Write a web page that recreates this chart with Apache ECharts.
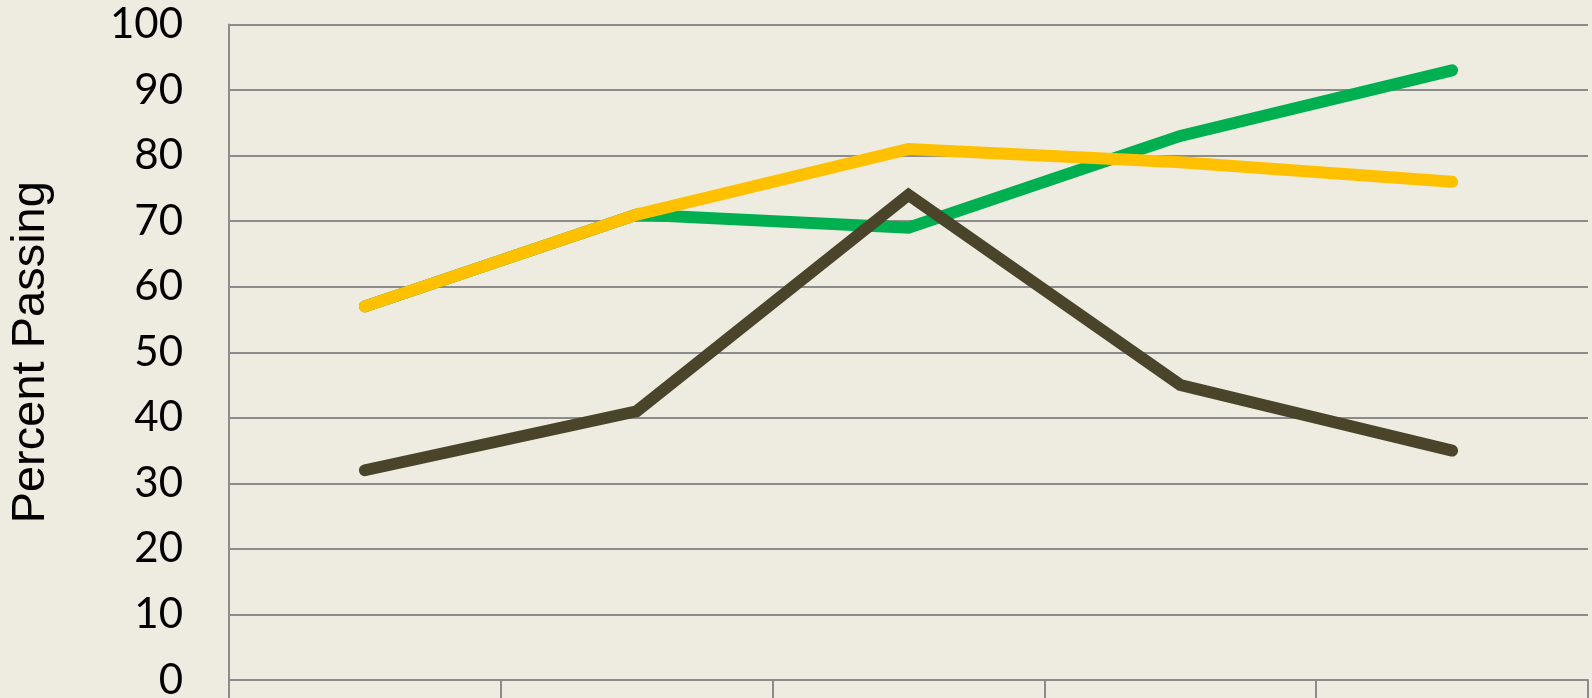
<!DOCTYPE html>
<html>
<head>
<meta charset="utf-8">
<script src="https://cdn.jsdelivr.net/npm/echarts@6/dist/echarts.min.js"></script>
<style>
  html, body { margin: 0; padding: 0; background: #EEEBE0; }
  #chart { width: 1592px; height: 698px; }
</style>
</head>
<body>
<div id="chart"></div>
<script>
// categories (labels fall below the visible area)
var categories = ['1', '2', '3', '4', '5']
var greenVals = [57, 71, 69, 83, 93]
var yellowVals = [57, 71, 81, 79, 76]
var darkVals = [32, 41, 74, 45, 35]

var chart = echarts.init(document.getElementById('chart'))

function lineSeries (name, data, color) {
  return {
    name: name,
    type: 'line',
    data: data,
    showSymbol: false,
    symbol: 'none',
    lineStyle: { color: color, width: 12, cap: 'round', join: 'miter' },
    itemStyle: { color: color },
    animation: false
  }
}

chart.setOption({
  backgroundColor: '#EEEBE0',
  animation: false,
  grid: { left: 229, right: 4, top: 24.5, bottom: 18, outerBoundsMode: 'none', containLabel: false },
  xAxis: {
    type: 'category',
    data: categories,
    boundaryGap: true,
    axisLine: { show: true, lineStyle: { color: '#8C8C8C', width: 2 } },
    axisTick: { show: true, length: 22, lineStyle: { color: '#8C8C8C', width: 2 } },
    axisLabel: { show: false },
    splitLine: { show: false }
  },
  yAxis: {
    type: 'value',
    min: 0,
    max: 100,
    interval: 10,
    name: 'Percent Passing',
    nameLocation: 'middle',
    nameGap: 174,
    nameRotate: 90,
    nameTextStyle: { fontFamily: 'Liberation Sans', fontSize: 47, color: '#000' },
    axisLine: { show: true, lineStyle: { color: '#8C8C8C', width: 2 } },
    axisTick: { show: false },
    axisLabel: { fontFamily: 'Lato', fontSize: 42, color: '#000', margin: 46 },
    splitLine: { show: true, lineStyle: { color: '#8C8C8C', width: 2 } }
  },
  series: [
    lineSeries('Green', greenVals, '#00B050'),
    lineSeries('Yellow', yellowVals, '#FFC000'),
    lineSeries('Dark', darkVals, '#4A442B')
  ]
})
</script>
</body>
</html>
